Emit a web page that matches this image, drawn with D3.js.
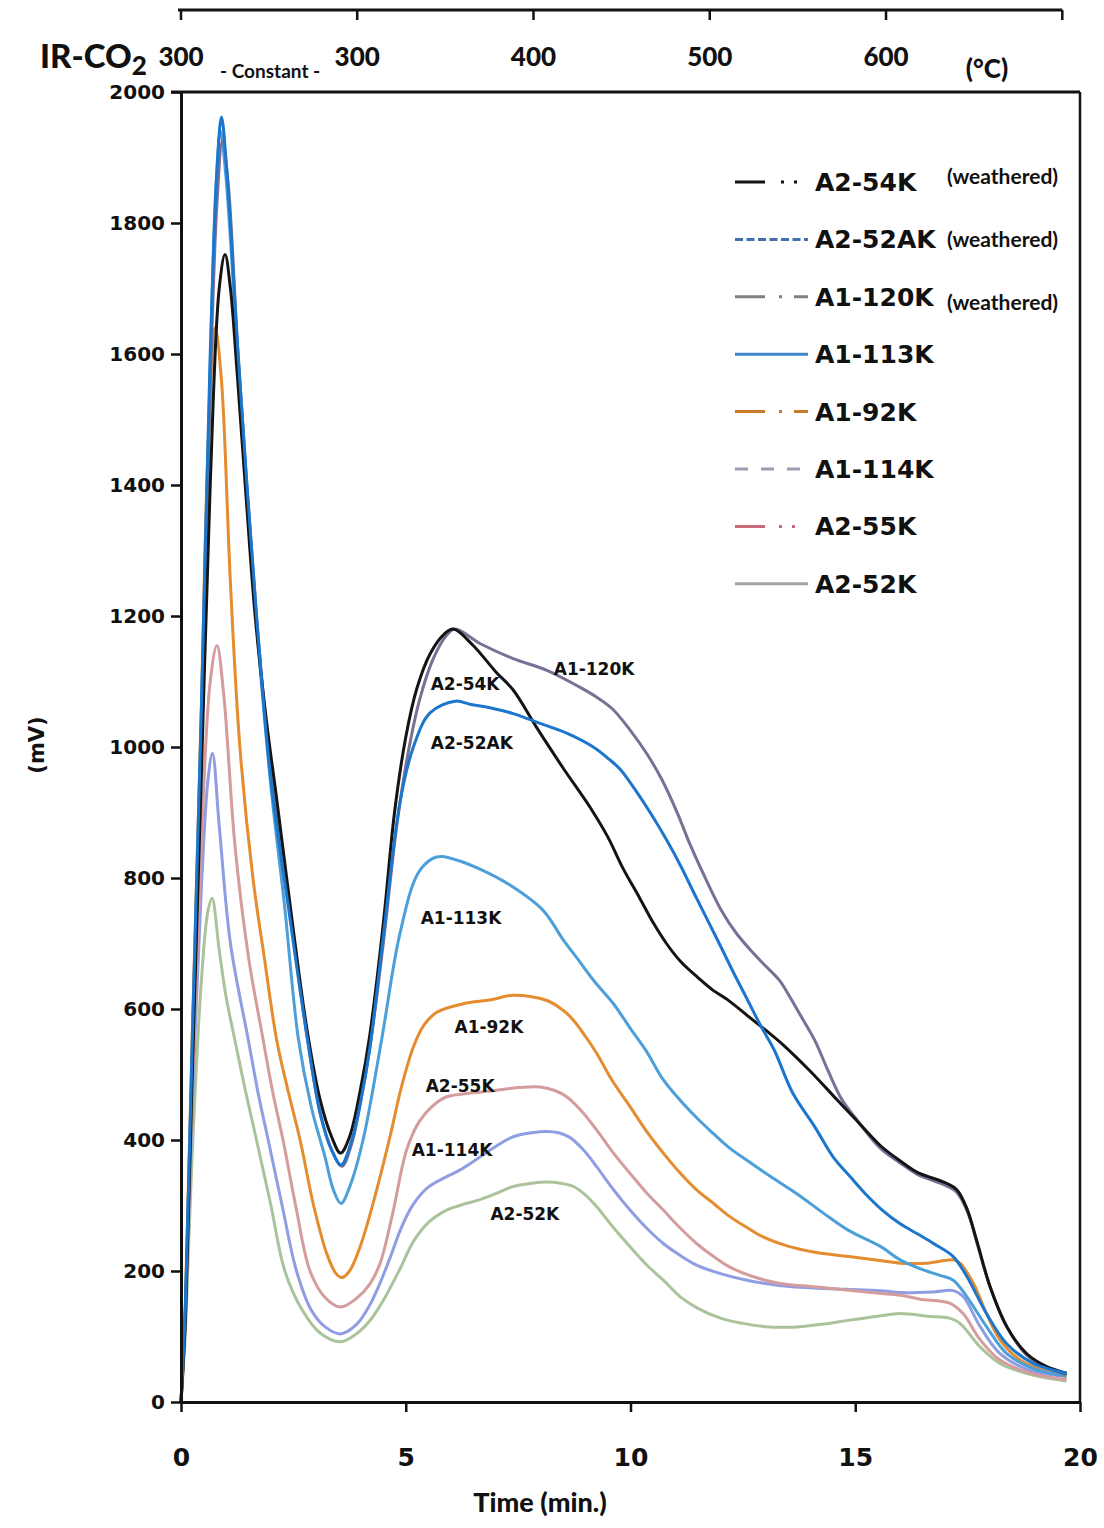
<!DOCTYPE html>
<html>
<head>
<meta charset="utf-8">
<script src="https://cdn.jsdelivr.net/npm/d3@7"></script>
<style>
  body { margin: 0; background: #fff; }
  svg { display: block; }
</style>
</head>
<body>
<svg id="chart" width="1104" height="1528"></svg>
<script>
// IR-CO2 evolution curves, [minute, mV]
const A2_54K = [[0,0],[0.1,130],[0.25,500],[0.45,950],[0.65,1400],[0.85,1700],[0.98,1752],[1.1,1700],[1.24,1580],[1.45,1380],[1.65,1200],[1.9,1040],[2.13,920],[2.5,720],[2.8,570],[3.1,460],[3.35,405],[3.55,380],[3.75,405],[4.0,480],[4.2,560],[4.5,730],[4.75,900],[5.0,1015],[5.25,1090],[5.54,1142],[5.85,1172],[6.06,1180],[6.5,1155],[7.0,1115],[7.39,1087],[7.91,1030],[8.5,968],[9.1,908],[9.5,862],[9.83,815],[10.2,770],[10.52,730],[10.8,700],[11.12,672],[11.5,648],[11.81,630],[12.2,612],[12.6,590],[13.0,568],[13.4,545],[14.0,505],[14.6,461],[15.0,432],[15.55,392],[16.0,368],[16.37,351],[17.03,334],[17.26,324],[17.48,296],[17.7,247],[18.0,176],[18.37,115],[18.81,74],[19.26,54],[19.7,44]];
const A2_52AK = [[0,0],[0.1,150],[0.25,550],[0.45,1050],[0.65,1600],[0.8,1880],[0.9,1962],[1.02,1880],[1.27,1600],[1.68,1200],[2.0,950],[2.4,750],[2.8,560],[3.1,440],[3.35,385],[3.56,362],[3.8,400],[4.0,460],[4.2,540],[4.5,710],[4.87,915],[5.17,1000],[5.54,1052],[6.1,1070],[6.45,1065],[6.87,1060],[7.39,1051],[7.99,1036],[8.58,1021],[9.17,1000],[9.53,981],[9.77,966],[10.2,925],[10.5,893],[10.82,856],[11.12,818],[11.42,776],[11.72,735],[12.01,695],[12.31,653],[12.61,613],[12.9,574],[13.2,537],[13.6,473],[14.1,420],[14.51,374],[14.9,343],[15.25,316],[15.6,293],[16.0,272],[16.4,256],[16.74,242],[17.18,222],[17.48,192],[17.92,135],[18.37,89],[18.96,59],[19.7,44]];
const A1_120K = [[0,0],[0.1,140],[0.25,520],[0.45,1000],[0.65,1550],[0.8,1830],[0.92,1925],[1.05,1860],[1.27,1600],[1.68,1200],[2.0,960],[2.4,760],[2.8,560],[3.1,440],[3.35,385],[3.58,360],[3.8,395],[4.0,460],[4.2,540],[4.5,700],[4.8,880],[5.05,990],[5.3,1070],[5.6,1133],[5.9,1170],[6.1,1180],[6.65,1158],[7.39,1135],[8.14,1117],[8.88,1091],[9.25,1076],[9.6,1058],[10.0,1025],[10.36,990],[10.7,950],[11.05,898],[11.32,852],[11.65,802],[12.01,752],[12.35,716],[12.71,687],[13.0,666],[13.31,644],[13.55,618],[13.8,588],[14.1,552],[14.4,505],[14.7,462],[15.0,434],[15.55,388],[16.0,365],[16.37,348],[17.03,330],[17.26,320],[17.5,290],[17.72,240],[18.0,176],[18.4,112],[18.81,72],[19.26,52],[19.7,42]];
const A1_113K = [[0,0],[0.1,150],[0.25,540],[0.45,1040],[0.65,1580],[0.78,1860],[0.88,1940],[1.0,1870],[1.27,1590],[1.68,1190],[2.0,940],[2.3,760],[2.61,555],[2.9,450],[3.2,375],[3.4,322],[3.56,303],[3.75,328],[4.05,400],[4.46,552],[4.87,715],[5.27,807],[5.6,830],[5.8,833],[6.2,826],[6.7,812],[7.3,790],[8.05,751],[8.5,706],[8.84,675],[9.2,642],[9.62,608],[10.0,570],[10.36,535],[10.7,495],[11.1,461],[11.5,432],[11.84,410],[12.2,388],[12.59,369],[13.1,345],[13.7,318],[14.3,288],[14.85,262],[15.55,238],[16.0,217],[16.5,202],[16.9,193],[17.18,186],[17.48,161],[17.92,115],[18.37,74],[19.0,50],[19.7,40]];
const A1_92K = [[0,0],[0.1,160],[0.25,560],[0.45,1050],[0.6,1450],[0.76,1640],[0.9,1560],[1.1,1250],[1.31,1000],[1.6,800],[1.85,680],[2.13,552],[2.4,470],[2.65,400],[2.95,300],[3.25,225],[3.45,196],[3.58,190],[3.75,200],[4.0,240],[4.3,310],[4.65,405],[4.9,480],[5.17,542],[5.4,575],[5.69,595],[6.28,608],[6.9,614],[7.39,621],[8.14,613],[8.5,598],[8.73,583],[9.0,558],[9.25,532],[9.6,490],[9.99,451],[10.35,414],[10.73,380],[11.1,350],[11.47,324],[11.85,303],[12.21,283],[12.6,266],[12.95,252],[13.5,238],[14.07,229],[14.88,222],[15.55,216],[16.0,212],[16.6,212],[17.0,216],[17.18,217],[17.33,212],[17.63,181],[17.92,135],[18.22,95],[18.67,64],[19.2,48],[19.7,39]];
const A1_114K = [[0,0],[0.1,130],[0.25,450],[0.45,780],[0.6,950],[0.7,990],[0.85,880],[1.1,700],[1.5,552],[1.72,470],[1.94,400],[2.25,300],[2.57,200],[2.9,140],[3.2,115],[3.55,104],[3.9,118],[4.2,148],[4.43,182],[4.65,220],[4.9,266],[5.17,302],[5.5,328],[5.91,344],[6.2,354],[6.65,374],[7.0,390],[7.39,405],[7.8,411],[8.14,413],[8.4,411],[8.65,404],[8.95,385],[9.25,359],[9.6,326],[9.99,293],[10.35,266],[10.73,242],[11.1,224],[11.47,209],[12.0,196],[12.59,186],[13.3,178],[14.07,174],[14.8,172],[15.55,170],[16.0,167],[16.74,168],[17.18,170],[17.4,161],[17.78,115],[18.22,74],[18.9,48],[19.7,39]];
const A2_55K = [[0,0],[0.1,140],[0.25,480],[0.45,850],[0.65,1100],[0.8,1155],[0.95,1080],[1.2,850],[1.5,680],[1.83,552],[2.05,470],[2.27,400],[2.55,300],[2.87,200],[3.2,160],[3.55,145],[3.9,158],[4.2,180],[4.43,212],[4.7,285],[5.02,385],[5.3,428],[5.6,452],[5.91,466],[6.5,472],[7.02,476],[7.5,480],[7.99,481],[8.3,476],[8.58,466],[8.9,445],[9.25,415],[9.6,382],[9.99,349],[10.35,320],[10.73,293],[11.1,266],[11.47,242],[11.85,222],[12.21,206],[12.7,192],[13.33,181],[14.07,176],[14.81,171],[15.25,168],[16.0,163],[16.44,157],[17.1,151],[17.4,135],[17.78,95],[18.22,64],[18.9,44],[19.7,34]];
const A2_52K = [[0,0],[0.1,110],[0.25,380],[0.45,640],[0.6,750],[0.69,769],[0.85,690],[1.0,620],[1.2,552],[1.45,470],[1.68,400],[2.0,300],[2.31,200],[2.7,140],[3.1,105],[3.55,92],[3.9,104],[4.2,124],[4.5,155],[4.87,203],[5.17,245],[5.5,274],[5.91,293],[6.2,300],[6.65,309],[7.0,318],[7.39,329],[7.8,334],[8.14,336],[8.45,334],[8.73,329],[9.0,316],[9.25,298],[9.6,268],[9.99,237],[10.35,210],[10.73,186],[11.1,161],[11.5,143],[12.0,128],[12.5,120],[13.0,115],[13.5,114],[13.77,115],[14.3,119],[14.88,125],[15.5,131],[16.0,135],[16.6,131],[17.1,128],[17.33,120],[17.78,84],[18.22,59],[18.9,42],[19.7,32]];

// legend order and sample names
const sampleNames = ["A2-54K", "A2-52AK", "A1-120K", "A1-113K", "A1-92K", "A1-114K", "A2-55K", "A2-52K"];
const weathered = ["A2-54K", "A2-52AK", "A1-120K"];
const seriesData = {
  "A2-54K": A2_54K, "A2-52AK": A2_52AK, "A1-120K": A1_120K, "A1-113K": A1_113K,
  "A1-92K": A1_92K, "A1-114K": A1_114K, "A2-55K": A2_55K, "A2-52K": A2_52K
};

// axis ticks
const timeTicks = [0, 5, 10, 15, 20];
const mvTicks = [0, 200, 400, 600, 800, 1000, 1200, 1400, 1600, 1800, 2000];

// heating programme: 300 °C hold, then linear ramp
const holdTemp = 300, holdMinutes = 3.92, rampRate = 25.5; // °C per min
const tempTicks = [400, 500, 600, 700];

// in-plot curve labels, [minute, mV]
const curveLabels = [
  ["A1-120K", 9.19, 1120], ["A2-54K", 6.32, 1097], ["A2-52AK", 6.47, 1007],
  ["A1-113K", 6.23, 739], ["A1-92K", 6.85, 572], ["A2-55K", 6.21, 482],
  ["A1-114K", 6.03, 385], ["A2-52K", 7.65, 287]
];

// ---- styles ----
const lineColor = {
  "A2-54K": "#141414", "A2-52AK": "#1c76cc", "A1-120K": "#7a7096", "A1-113K": "#4c9fd9",
  "A1-92K": "#e48c2e", "A1-114K": "#8f9de2", "A2-55K": "#d49c9d", "A2-52K": "#aac39b"
};
const legendStyle = {
  "A2-54K":  { color: "#111", dash: "30,16,3,10,3,40" },
  "A2-52AK": { color: "#3f70ad", dash: "8,3.5" },
  "A1-120K": { color: "#7f7f85", dash: "30,14,3,12,16,40" },
  "A1-113K": { color: "#3f86c8", dash: null },
  "A1-92K":  { color: "#c97b2c", dash: "30,14,3,12,16,40" },
  "A1-114K": { color: "#9a9cb2", dash: "13,13" },
  "A2-55K":  { color: "#c66a78", dash: "30,14,3,10,3,40" },
  "A2-52K":  { color: "#a4a4a4", dash: null }
};
const drawOrder = ["A2-52K", "A1-114K", "A2-55K", "A1-92K", "A1-113K", "A1-120K", "A2-54K", "A2-52AK"];

const svg = d3.select("#chart");
const plotL = 181, plotR = 1080, plotT = 92, plotB = 1402;
const x = d3.scaleLinear().domain([0, 20]).range([plotL, plotR]);
const y = d3.scaleLinear().domain([0, 2000]).range([plotB, plotT]);

const boldSans = "'DejaVu Sans', Verdana, sans-serif";
const calibriLike = "Lato, 'Open Sans', sans-serif";

// curves
const line = d3.line().x(d => x(d[0])).y(d => y(d[1])).curve(d3.curveCatmullRom.alpha(0.5));
svg.append("g").selectAll("path").data(drawOrder).join("path")
  .attr("d", n => line(seriesData[n]))
  .attr("fill", "none")
  .attr("stroke", n => lineColor[n])
  .attr("stroke-width", 3)
  .attr("stroke-linejoin", "round");

// plot frame (top and right)
svg.append("line").attr("x1", plotL - 10).attr("x2", plotR).attr("y1", plotT).attr("y2", plotT)
  .attr("stroke", "#111").attr("stroke-width", 3);
svg.append("line").attr("x1", plotR).attr("x2", plotR).attr("y1", plotT).attr("y2", plotB)
  .attr("stroke", "#111").attr("stroke-width", 2.5);

// left axis
const yAxis = svg.append("g").attr("transform", `translate(${plotL},0)`)
  .call(d3.axisLeft(y).tickValues(mvTicks).tickFormat(d3.format("d"))
    .tickSize(10).tickPadding(6).tickSizeOuter(0));
yAxis.select(".domain").attr("stroke", "#111").attr("stroke-width", 3);
yAxis.selectAll(".tick line").attr("stroke", "#111").attr("stroke-width", 2.5);
yAxis.selectAll("text").attr("font-family", boldSans).attr("font-weight", "bold")
  .attr("font-size", 20).attr("fill", "#111");

// bottom axis
const xAxis = svg.append("g").attr("transform", `translate(0,${plotB})`)
  .call(d3.axisBottom(x).tickValues(timeTicks).tickSize(10).tickPadding(36).tickSizeOuter(0));
xAxis.select(".domain").attr("stroke", "#111").attr("stroke-width", 3);
xAxis.selectAll(".tick line").attr("stroke", "#111").attr("stroke-width", 2.5);
xAxis.selectAll("text").attr("font-family", boldSans).attr("font-weight", "bold")
  .attr("font-size", 25).attr("fill", "#111");

// axis titles
svg.append("text").attr("x", 540).attr("y", 1512).attr("text-anchor", "middle")
  .attr("font-family", calibriLike).attr("font-weight", 900).attr("font-size", 27)
  .attr("fill", "#111").text("Time (min.)");
svg.append("text").attr("transform", "translate(44,745) rotate(-90)").attr("text-anchor", "middle")
  .attr("font-family", boldSans).attr("font-weight", "bold").attr("font-size", 21)
  .attr("fill", "#111").text("(mV)");

const irTitle = svg.append("text").attr("x", 40).attr("y", 68)
  .attr("font-family", calibriLike).attr("font-weight", 900).attr("font-size", 33).attr("fill", "#111");
irTitle.append("tspan").text("IR-CO");
irTitle.append("tspan").attr("dy", 7).attr("font-size", 26).text("2");

// temperature axis along the top
const tempTime = T => holdMinutes + (T - holdTemp) / rampRate;
const topY = 10;
const topTickTimes = [0, holdMinutes].concat(tempTicks.map(tempTime));
const topLabels = [holdTemp, holdTemp].concat(tempTicks);
svg.append("line").attr("x1", x(0) - 3).attr("x2", x(tempTime(700)))
  .attr("y1", topY).attr("y2", topY).attr("stroke", "#111").attr("stroke-width", 3);
svg.append("g").selectAll("line").data(topTickTimes).join("line")
  .attr("x1", d => x(d)).attr("x2", d => x(d)).attr("y1", topY).attr("y2", topY + 10)
  .attr("stroke", "#111").attr("stroke-width", 2.5);
const topLabelData = topTickTimes.map((t, i) => ({ t, label: topLabels[i] })).filter(d => d.label !== 700);
svg.append("g").selectAll("text").data(topLabelData).join("text")
  .attr("x", d => x(d.t)).attr("y", 66).attr("text-anchor", "middle")
  .attr("font-family", calibriLike).attr("font-weight", 900).attr("font-size", 26)
  .attr("fill", "#111").text(d => d.label);
svg.append("text").attr("x", x(tempTime(600)) + 101).attr("y", 78).attr("text-anchor", "middle")
  .attr("font-family", calibriLike).attr("font-weight", 900).attr("font-size", 26)
  .attr("fill", "#111").text("(°C)");
svg.append("text").attr("x", (x(0) + x(holdMinutes)) / 2 + 1).attr("y", 78).attr("text-anchor", "middle")
  .attr("font-family", calibriLike).attr("font-weight", 700).attr("font-size", 19)
  .attr("fill", "#111").text("- Constant -");

// curve labels
svg.append("g").selectAll("text").data(curveLabels).join("text")
  .attr("x", d => x(d[1])).attr("y", d => y(d[2])).attr("dy", "0.36em").attr("text-anchor", "middle")
  .attr("font-family", boldSans).attr("font-weight", "bold").attr("font-size", 17)
  .attr("fill", "#111").text(d => d[0]);

// legend
const legend = svg.append("g").attr("transform", "translate(735,182)");
const rows = legend.selectAll("g").data(sampleNames).join("g")
  .attr("transform", (d, i) => `translate(0,${i * 57.4})`);
rows.append("line").attr("x1", 0).attr("x2", 73).attr("y1", 0).attr("y2", 0)
  .attr("stroke", n => legendStyle[n].color).attr("stroke-width", 3)
  .attr("stroke-dasharray", n => legendStyle[n].dash);
rows.append("text").attr("x", 80).attr("y", 0).attr("dy", "0.36em")
  .attr("font-family", boldSans).attr("font-weight", "bold").attr("font-size", 25)
  .attr("fill", "#111").text(n => n);
rows.filter(n => weathered.includes(n)).append("text")
  .attr("x", 212).attr("y", (n, i) => [-6, 0, 6][i]).attr("dy", "0.36em")
  .attr("font-family", calibriLike).attr("font-weight", 700).attr("font-size", 21)
  .attr("fill", "#111").text("(weathered)");
</script>
</body>
</html>
